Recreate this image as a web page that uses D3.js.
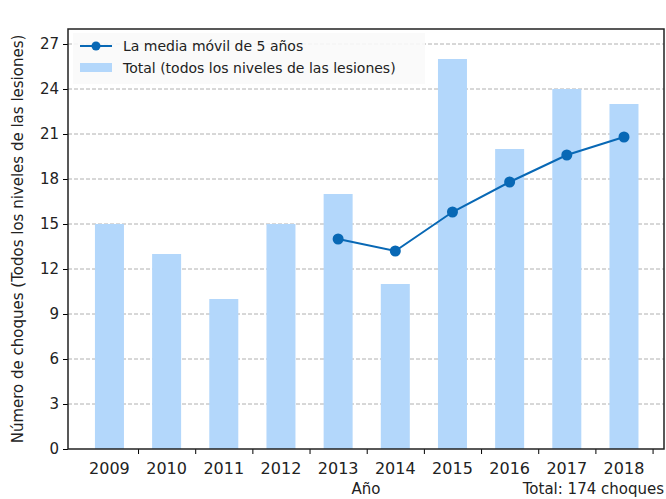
<!DOCTYPE html>
<html>
<head>
  <meta charset="UTF-8">
  <title>Choques por año</title>
  <style>
    body { margin: 0; background: #fff; }
    svg text { font-family: "DejaVu Sans", sans-serif; fill: #222; }
  </style>
</head>
<body>
<svg id="chart" width="666" height="499"></svg>
<script src="https://d3js.org/d3.v7.min.js"></script>
<script>
  // data
  var years = ["2009", "2010", "2011", "2012", "2013", "2014", "2015", "2016", "2017", "2018"];
  var totals = [15, 13, 10, 15, 17, 11, 26, 20, 24, 23];
  var mediaYears = ["2013", "2014", "2015", "2016", "2017", "2018"];
  var mediaValues = [14.0, 13.2, 15.8, 17.8, 19.6, 20.8];
  var yTicks = [0, 3, 6, 9, 12, 15, 18, 21, 24, 27];

  // plot box (window.top is reserved, so no plain "top")
  var plot = {left: 68, right: 664, top: 29, bottom: 449};
  var svg = d3.select("#chart");

  // x is a linear index scale so the ticks can sit between the bars
  var x = d3.scaleLinear().domain([-0.725, 9.7]).range([plot.left, plot.right]);
  var y = d3.scaleLinear().domain([0, 28]).range([plot.bottom, plot.top]);
  var barW = 29;

  // grid
  svg.append("g")
    .selectAll("line")
    .data(yTicks.slice(1))
    .join("line")
    .attr("x1", plot.left).attr("x2", plot.right)
    .attr("y1", d => y(d)).attr("y2", d => y(d))
    .attr("stroke", "#b0b0b0")
    .attr("stroke-width", 1)
    .attr("stroke-dasharray", "4,2");

  // bars
  svg.append("g")
    .selectAll("rect")
    .data(totals)
    .join("rect")
    .attr("x", (d, i) => x(i) - barW / 2)
    .attr("y", d => y(d))
    .attr("width", barW)
    .attr("height", d => y(0) - y(d))
    .attr("fill", "#b3d7fb");

  // moving average line
  var pts = mediaValues.map((v, i) => [years.indexOf(mediaYears[i]), v]);
  svg.append("path")
    .datum(pts)
    .attr("fill", "none")
    .attr("stroke", "#0868b5")
    .attr("stroke-width", 2)
    .attr("d", d3.line().x(d => x(d[0])).y(d => y(d[1])));
  svg.append("g")
    .selectAll("circle")
    .data(pts)
    .join("circle")
    .attr("cx", d => x(d[0]))
    .attr("cy", d => y(d[1]))
    .attr("r", 5.5)
    .attr("fill", "#0868b5");

  // y axis
  var yAxis = svg.append("g")
    .attr("transform", "translate(" + plot.left + ",0)")
    .call(d3.axisLeft(y).tickValues(yTicks).tickSize(5).tickPadding(4));
  yAxis.select(".domain").remove();
  yAxis.selectAll("text").style("font-size", "15px").attr("fill", "#222");

  // x axis: ticks between the bars, labels under the bars
  var xAxis = svg.append("g")
    .attr("transform", "translate(0," + plot.bottom + ")")
    .call(d3.axisBottom(x).tickValues(d3.range(10).map(i => i + 0.5)).tickSize(5).tickFormat(""));
  xAxis.select(".domain").remove();
  svg.append("g")
    .selectAll("text")
    .data(years)
    .join("text")
    .attr("x", (d, i) => x(i))
    .attr("y", plot.bottom + 25)
    .attr("text-anchor", "middle")
    .style("font-size", "16px")
    .text(d => d);

  // frame
  svg.append("rect")
    .attr("x", plot.left).attr("y", plot.top)
    .attr("width", plot.right - plot.left).attr("height", plot.bottom - plot.top)
    .attr("fill", "none")
    .attr("stroke", "#222")
    .attr("stroke-width", 1.5);

  // legend
  var lg = svg.append("g");
  lg.append("rect")
    .attr("x", 73).attr("y", 33).attr("width", 352).attr("height", 51)
    .attr("fill", "#fafafa").attr("fill-opacity", 0.9);
  lg.append("line")
    .attr("x1", 80).attr("x2", 112).attr("y1", 46).attr("y2", 46)
    .attr("stroke", "#0868b5").attr("stroke-width", 2);
  lg.append("circle").attr("cx", 96).attr("cy", 46).attr("r", 4.5).attr("fill", "#0868b5");
  lg.append("rect")
    .attr("x", 80).attr("y", 63).attr("width", 32).attr("height", 9)
    .attr("fill", "#b3d7fb");
  lg.append("text").attr("x", 123).attr("y", 51).style("font-size", "14px").text("La media móvil de 5 años");
  lg.append("text").attr("x", 123).attr("y", 73).style("font-size", "14px").text("Total (todos los niveles de las lesiones)");

  // labels
  svg.append("text")
    .attr("transform", "translate(23," + (plot.bottom + plot.top) / 2 + ") rotate(-90)")
    .attr("text-anchor", "middle")
    .style("font-size", "15px")
    .text("Número de choques (Todos los niveles de las lesiones)");
  svg.append("text")
    .attr("x", 366).attr("y", 494)
    .attr("text-anchor", "middle")
    .style("font-size", "15px")
    .text("Año");
  svg.append("text")
    .attr("x", 664).attr("y", 494)
    .attr("text-anchor", "end")
    .style("font-size", "15px")
    .text("Total: 174 choques");
</script>
</body>
</html>
